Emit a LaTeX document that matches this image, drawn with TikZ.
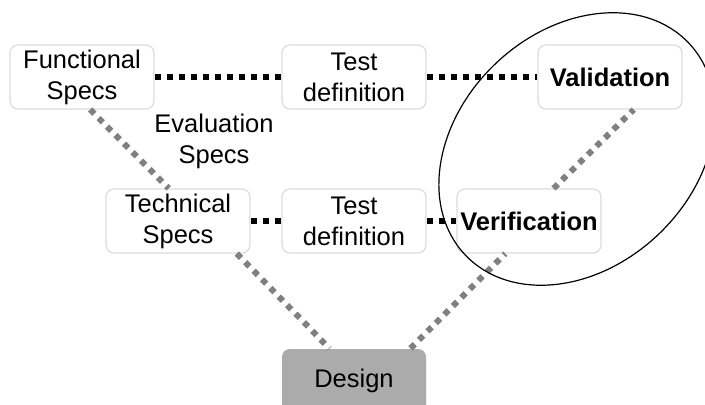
\documentclass[tikz,border=0pt]{standalone}
\usepackage{fontspec}
\setmainfont{Liberation Sans}
\usepackage{tikz}
\definecolor{bordclair}{HTML}{DCDCDC}
\definecolor{grisfonce}{HTML}{ABABAB}
\definecolor{grispoint}{HTML}{808080}
\tikzstyle{boite} = [rectangle, rounded corners=4pt, draw=bordclair, line width=0.6pt, fill=white, minimum height=32pt, minimum width=72pt, text width=72pt, inner sep=0pt, align=center, font=\fontsize{12.75}{15.5}\selectfont]
\tikzstyle{pointille} = [line width=3pt, dash pattern=on 3pt off 3pt]

\begin{document}
\begin{tikzpicture}[x=0.5pt, y=-0.5pt]

        \useasboundingbox (0,0) rectangle (705,405);
        \clip (0,0) rectangle (705,405);

        \node (fonc) [boite] at (82,77) {Functional\\Specs};
        \node (testhaut) [boite] at (354,77) {Test\\definition};
        \node (valid) [boite, font=\fontsize{12.75}{15.5}\selectfont\bfseries] at (610,77) {Validation};

        \node (tech) [boite] at (178,221) {Technical\\Specs};
        \node (testbas) [boite] at (354,221) {Test\\definition};
        \node (verif) [boite, font=\fontsize{12.75}{15.5}\selectfont\bfseries] at (529,221) {Verification};

        \node (design) [boite, draw=none, fill=grisfonce] at (354,381) {Design};
        \node (eval) [align=center, font=\fontsize{12.75}{15.5}\selectfont] at (214,141) {Evaluation\\Specs};

        \draw[pointille] (fonc) -- (testhaut);
        \draw[pointille] (testhaut) -- (valid);
        \draw[pointille] (tech) -- (testbas);
        \draw[pointille] (testbas) -- (verif);

        \draw[pointille, grispoint] (fonc.-76) -- (tech.106);
        \draw[pointille, grispoint] (tech.-29) -- (design.127);
        \draw[pointille, grispoint] (design.30) -- (verif.-126);
        \draw[pointille, grispoint] (verif.53) -- (valid.-54);

        \draw[line width=0.6pt, rotate around={43.5:(577,149)}] (577,149) ellipse [x radius=154, y radius=118];

    \end{tikzpicture}
\end{document}
